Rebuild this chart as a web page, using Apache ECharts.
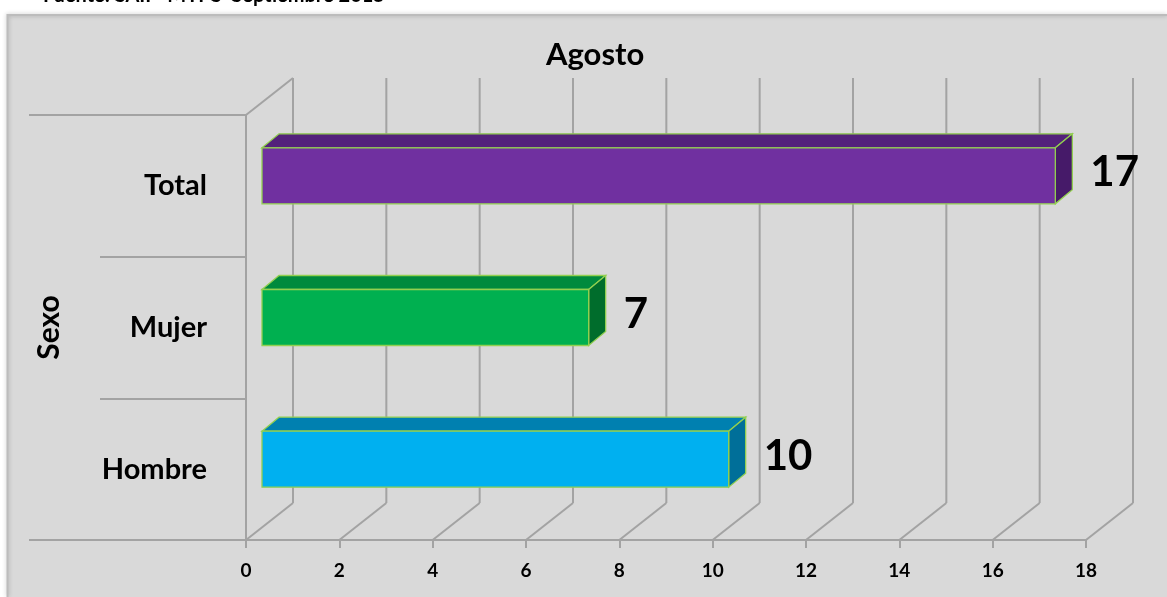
<!DOCTYPE html>
<html>
<head>
<meta charset="utf-8">
<script src="https://cdn.jsdelivr.net/npm/echarts@6/dist/echarts.min.js"></script>
<style>html,body{margin:0;padding:0;background:#fff;}#c{width:1167px;height:597px;}</style>
</head>
<body>
<div id="c"></div>
<script>
// ---- data ----
const categories = ['Hombre', 'Mujer', 'Total'];
const values = [10, 7, 17];
const xTicks = [0, 2, 4, 6, 8, 10, 12, 14, 16, 18];
const titleText = 'Agosto';
const axisName = 'Sexo';
const sourceText = 'Fuente: SAIP  MTPS  Septiembre 2015';

// ---- styles ----
const faceColors = ['#00b0f0', '#00b050', '#7030a0'];
const topColors = ['#0080b0', '#008a3d', '#53217b'];
const sideColors = ['#006f99', '#006d2c', '#461a69'];
const GRID = '#a3a3a3';
const FONT = 'Lato, "Open Sans", sans-serif';
const WDX = 47, WDY = -37;   // wall depth
const BX = 16, BY = -10;     // bar offset inside depth
const DDX = 17, DDY = -14;   // bar depth

function renderFrame(params, api) {
  const cs = params.coordSys;
  const top = cs.y, bottom = cs.y + cs.height, left = cs.x;
  const children = [];
  const ln = (x1, y1, x2, y2) => children.push({
    type: 'line', shape: { x1, y1, x2, y2 },
    style: { stroke: GRID, lineWidth: 2 }
  });
  xTicks.forEach(t => {
    const x = api.coord([t, 0])[0];
    ln(x + WDX, top + WDY, x + WDX, bottom + WDY);
    ln(x, bottom, x + WDX, bottom + WDY);
  });
  ln(left, top, left + WDX, top + WDY);
  ln(29, top, left, top);
  ln(29, bottom, left, bottom);
  return { type: 'group', children };
}

function renderBar(params, api) {
  const v = api.value(0);
  const idx = api.value(1);
  const c0 = api.coord([0, idx]);
  const c1 = api.coord([v, idx]);
  const band = api.size([0, 1])[1];
  const h = band * 0.395;
  const x0 = c0[0] + BX, x1 = c1[0] + BX;
  const yT = c0[1] + BY - h / 2, yB = yT + h;
  const edge = { stroke: '#92d050', lineWidth: 1.3 };
  return {
    type: 'group',
    children: [
      { type: 'polygon', shape: { points: [[x0, yT], [x0 + DDX, yT + DDY], [x1 + DDX, yT + DDY], [x1, yT]] },
        style: Object.assign({ fill: topColors[idx] }, edge) },
      { type: 'polygon', shape: { points: [[x1, yT], [x1 + DDX, yT + DDY], [x1 + DDX, yB + DDY], [x1, yB]] },
        style: Object.assign({ fill: sideColors[idx] }, edge) },
      { type: 'rect', shape: { x: x0, y: yT, width: x1 - x0, height: h },
        style: Object.assign({ fill: faceColors[idx] }, edge) },
      { type: 'text', style: { text: String(v), x: x1 + DDX + 18, y: c0[1] + BY - 3,
        font: 'bold 42px ' + FONT, fill: '#000', align: 'left', verticalAlign: 'middle' } }
    ]
  };
}

const chart = echarts.init(document.getElementById('c'), null, { renderer: 'canvas' });
chart.setOption({
  backgroundColor: '#d9d9d9',
  animation: false,
  graphic: [
    { type: 'rect', shape: { x: 0, y: 0, width: 1167, height: 14 }, style: { fill: '#ffffff' }, z: 0 },
    { type: 'rect', shape: { x: 0, y: 0, width: 7, height: 597 }, style: { fill: '#ffffff' }, z: 0 },
    { type: 'polyline', shape: { points: [[7.5, 597], [7.5, 15], [1167, 15]] },
      style: { stroke: '#bcbcbc', lineWidth: 2, fill: null, shadowBlur: 4, shadowColor: 'rgba(0,0,0,0.25)' }, z: 0 },
    { type: 'text', style: { text: sourceText, x: 43, y: 6, font: 'bold 20px ' + FONT, fill: '#000',
      align: 'left', verticalAlign: 'bottom' }, z: 1 }
  ],
  title: {
    text: titleText, left: 541, top: 34,
    textStyle: { fontFamily: FONT, fontWeight: 'bold', fontSize: 31, color: '#000' }
  },
  grid: { left: 246, right: 81, top: 115, bottom: 57 },
  xAxis: {
    type: 'value', min: 0, max: 18, interval: 2,
    axisLine: { show: true, lineStyle: { color: GRID, width: 2 } },
    axisTick: { show: true, length: 8, lineStyle: { color: GRID, width: 2 } },
    splitLine: { show: false },
    axisLabel: { fontFamily: FONT, fontWeight: 'bold', fontSize: 19, color: '#000', margin: 21,
      formatter: v => xTicks.includes(v) ? String(v) : '' }
  },
  yAxis: {
    type: 'category', data: categories,
    name: axisName, nameLocation: 'middle', nameRotate: 90, nameGap: 182,
    nameTextStyle: { fontFamily: FONT, fontWeight: 'bold', fontSize: 30, color: '#000' },
    axisLine: { show: true, lineStyle: { color: GRID, width: 2 } },
    axisTick: { show: true, length: 146, alignWithLabel: false, lineStyle: { color: GRID, width: 2 } },
    splitLine: { show: false },
    axisLabel: { fontFamily: FONT, fontWeight: 'bold', fontSize: 29, color: '#000', margin: 39 }
  },
  series: [
    { type: 'custom', name: 'frame', renderItem: renderFrame, data: [[0, 0]],
      encode: { x: 0, y: 1 }, clip: false, silent: true, z: 1 },
    { type: 'custom', name: 'Agosto', renderItem: renderBar,
      data: values.map((v, i) => [v, i]), encode: { x: 0, y: 1 }, clip: false, z: 3 }
  ]
});
</script>
</body>
</html>
